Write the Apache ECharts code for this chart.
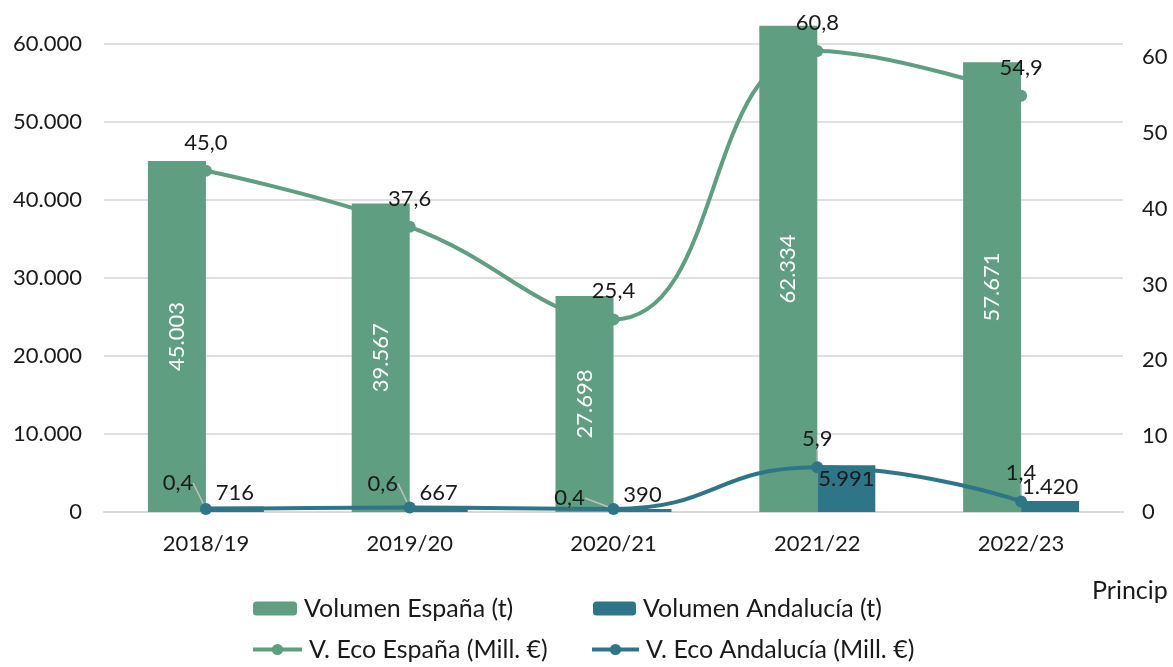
<!DOCTYPE html>
<html>
<head>
<meta charset="utf-8">
<script src="https://cdn.jsdelivr.net/npm/echarts@6/dist/echarts.min.js"></script>
<style>
  html, body { margin: 0; padding: 0; background: #fff; }
  #chart { width: 1173px; height: 667px; }
</style>
</head>
<body>
<div id="chart"></div>
<script>
const years = ['2018/19', '2019/20', '2020/21', '2021/22', '2022/23'];
const volEspana = [45003, 39567, 27698, 62334, 57671];
const volAndalucia = [716, 667, 390, 5991, 1420];
const ecoEspana = [45.0, 37.6, 25.4, 60.8, 54.9];
const ecoAndalucia = [0.4, 0.6, 0.4, 5.9, 1.4];

const green = '#5f9e81';
const teal = '#2e7588';
const font = 'Lato';
const txt = '#1a1a1a';

// label nudges for the small Andalucía values (dx, dy)
const andShift = [[-28, 2], [-27, 4], [-44, 17]];

const thousands = (v) => String(v).replace(/\B(?=(\d{3})+(?!\d))/g, '.');
const dec = (v) => v.toFixed(1).replace('.', ',');

const chart = echarts.init(document.getElementById('chart'));

chart.setOption({
  animation: false,
  textStyle: { fontFamily: font },
  grid: { left: 104, right: 50, top: -34, bottom: 155, outerBoundsMode: 'none' },
  legend: [
    { data: ['Volumen España (t)'], left: 253, top: 596, itemWidth: 44 },
    { data: ['Volumen Andalucía (t)'], left: 593, top: 596, itemWidth: 43 },
    { data: ['V. Eco España (Mill. €)'], left: 251, top: 637, itemWidth: 49, lineStyle: { width: 4 } },
    { data: ['V. Eco Andalucía (Mill. €)'], left: 590, top: 637, itemWidth: 47, lineStyle: { width: 4 } },
  ].map((l) => Object.assign({
    itemHeight: 14,
    itemGap: 5,
    padding: 0,
    textStyle: { fontFamily: font, fontSize: 25, color: txt, padding: [0, 0, 0, 2] },
  }, l)),
  graphic: [
    {
      type: 'text',
      left: 1092,
      top: 578,
      style: { text: 'Princip', font: '25px Lato', fill: txt },
    },
  ],
  xAxis: {
    type: 'category',
    data: years,
    axisLine: { lineStyle: { color: '#d9d9d9', width: 2 } },
    axisTick: { show: false },
    axisLabel: { color: txt, fontSize: 22, fontFamily: font, margin: 21 },
  },
  yAxis: [
    {
      type: 'value',
      min: 0,
      max: 70000,
      interval: 10000,
      axisLabel: {
        color: txt,
        fontSize: 22,
        fontFamily: font,
        margin: 22,
        formatter: (v) => thousands(v),
      },
      splitLine: { lineStyle: { color: '#e0e0e0', width: 2 } },
    },
    {
      type: 'value',
      position: 'right',
      min: 0,
      max: 72,
      interval: 10,
      axisLabel: {
        color: txt,
        fontSize: 22,
        fontFamily: font,
        margin: 19,
        showMaxLabel: false,
      },
      splitLine: { show: false },
      axisLine: { show: false },
      axisTick: { show: false },
    },
  ],
  series: [
    {
      name: 'Volumen España (t)',
      type: 'bar',
      data: volEspana,
      barWidth: 58,
      barGap: '0%',
      itemStyle: { color: green },
      label: {
        show: true,
        position: 'inside',
        rotate: 90,
        color: '#fff',
        fontSize: 22,
        fontFamily: font,
        formatter: (p) => thousands(p.value),
      },
    },
    {
      name: 'Volumen Andalucía (t)',
      type: 'bar',
      barWidth: 58,
      barGap: '0%',
      itemStyle: { color: teal },
      data: volAndalucia.map((v) => ({
        value: v,
        label: { position: v > 3000 ? 'insideTop' : 'top', distance: 3 },
      })),
      label: {
        show: true,
        color: txt,
        fontSize: 22,
        fontFamily: font,
        formatter: (p) => thousands(p.value),
      },
    },
    {
      name: 'V. Eco España (Mill. €)',
      type: 'line',
      yAxisIndex: 1,
      data: ecoEspana,
      smooth: 0.45,
      symbol: 'circle',
      symbolSize: 12,
      z: 5,
      itemStyle: { color: green },
      lineStyle: { color: green, width: 4 },
      label: {
        show: true,
        position: 'top',
        distance: 11,
        color: txt,
        fontSize: 22,
        fontFamily: font,
        formatter: (p) => dec(p.value),
      },
    },
    {
      name: 'V. Eco Andalucía (Mill. €)',
      type: 'line',
      yAxisIndex: 1,
      data: ecoAndalucia,
      smooth: 0.5,
      symbol: 'circle',
      symbolSize: 12,
      z: 5,
      itemStyle: { color: teal },
      lineStyle: { color: teal, width: 4 },
      label: {
        show: true,
        position: 'top',
        distance: 11,
        color: txt,
        fontSize: 22,
        fontFamily: font,
        formatter: (p) => dec(p.value),
      },
      labelLine: { show: true, lineStyle: { color: '#bfbfbf', width: 1.5 } },
      labelLayout: (p) => {
        const s = andShift[p.dataIndex];
        return s ? { dx: s[0], dy: s[1] } : {};
      },
    },
  ],
});
</script>
</body>
</html>
